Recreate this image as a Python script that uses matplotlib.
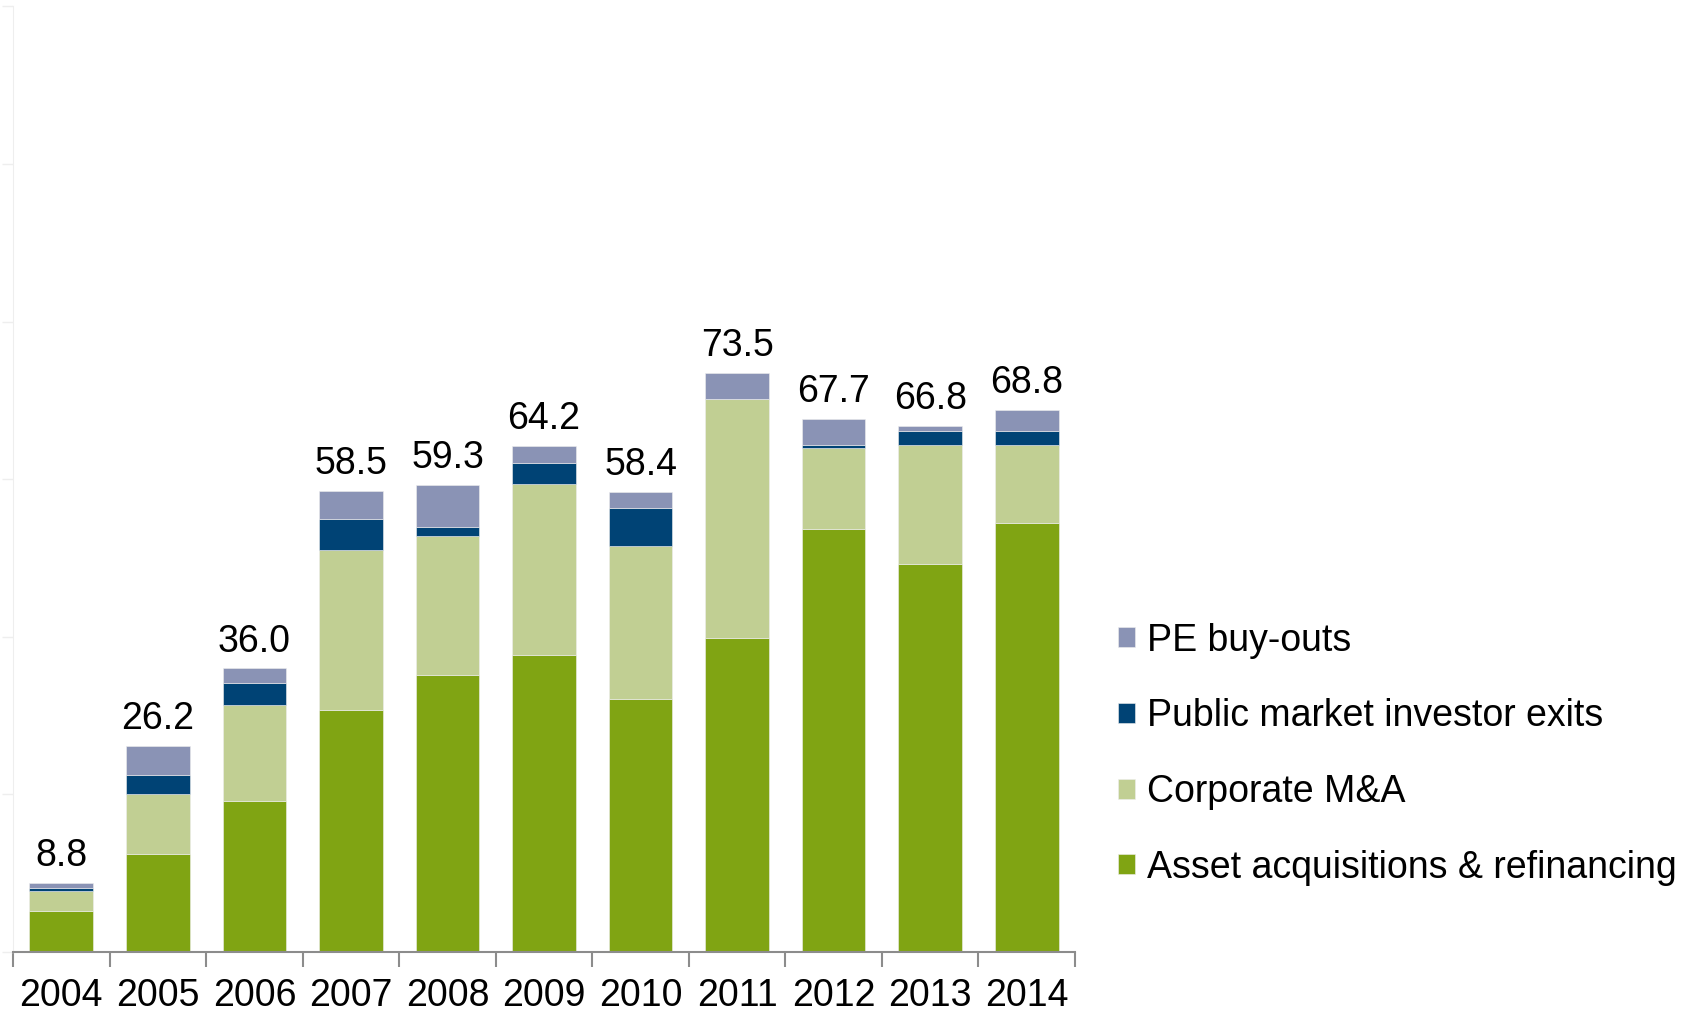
import numpy as np
from matplotlib import pyplot as plt

plt.rcParams['font.family'] = ['Liberation Sans', 'DejaVu Sans']

years = ['2004', '2005', '2006', '2007', '2008', '2009', '2010', '2011', '2012', '2013', '2014']
asset = [5.2, 12.4, 19.2, 30.7, 35.2, 37.7, 32.1, 39.9, 53.7, 49.2, 54.4]
corporate = [2.5, 7.6, 12.2, 20.3, 17.6, 21.7, 19.4, 30.3, 10.2, 15.1, 9.9]
public_exits = [0.4, 2.5, 2.7, 3.9, 1.1, 2.6, 4.9, 0.0, 0.4, 1.8, 1.8]
pe_buyouts = [0.7, 3.7, 1.9, 3.6, 5.4, 2.2, 2.0, 3.3, 3.4, 0.7, 2.7]
totals = [8.8, 26.2, 36.0, 58.5, 59.3, 64.2, 58.4, 73.5, 67.7, 66.8, 68.8]

series = [
    ('Asset acquisitions & refinancing', asset, '#80a413'),
    ('Corporate M&A', corporate, '#c1cf93'),
    ('Public market investor exits', public_exits, '#004375'),
    ('PE buy-outs', pe_buyouts, '#8a93b5'),
]

fig = plt.figure(figsize=(16.99, 10.15), dpi=100)
ax = fig.add_axes([0.0077, 0.062, 0.625, 0.9317])

x = np.arange(len(years))
bottom = np.zeros(len(years))
handles = []
for name, vals, col in series:
    b = ax.bar(x, vals, 0.66, bottom=bottom, color=col, label=name,
               edgecolor='#eeeeee', linewidth=0.4)
    handles.append(b)
    bottom += np.array(vals)

for xi, t in zip(x, totals):
    ax.annotate(f'{t:.1f}', (xi, t), xytext=(0, 12), textcoords='offset points',
                ha='center', va='baseline', fontsize=27)

ax.set_xlim(-0.5, len(years) - 0.5)
ax.set_ylim(0, 120)
ax.set_yticks(np.arange(0, 121, 20))
ax.set_yticklabels([])
ax.tick_params(axis='y', length=8, color='#eeeeee', width=1)

ax.set_xticks(x)
ax.set_xticklabels(years, fontsize=27)
ax.tick_params(axis='x', which='major', length=0, pad=19)
ax.set_xticks(np.arange(-0.5, len(years), 1), minor=True)
ax.tick_params(axis='x', which='minor', length=11, color='#8c8c8c', width=1.5)

for s in ['top', 'right']:
    ax.spines[s].set_visible(False)
ax.spines['left'].set_color('#eeeeee')
ax.spines['bottom'].set_color('#8c8c8c')
ax.spines['bottom'].set_linewidth(1.5)

leg = fig.legend(handles[::-1], [s[0] for s in series][::-1], loc='center left',
                 bbox_to_anchor=(0.658, 0.257), frameon=False, fontsize=27,
                 handlelength=0.45, handleheight=0.45, handletextpad=0.32,
                 labelspacing=1.06, borderpad=0, borderaxespad=0)

fig.savefig('out.png', dpi=100)
